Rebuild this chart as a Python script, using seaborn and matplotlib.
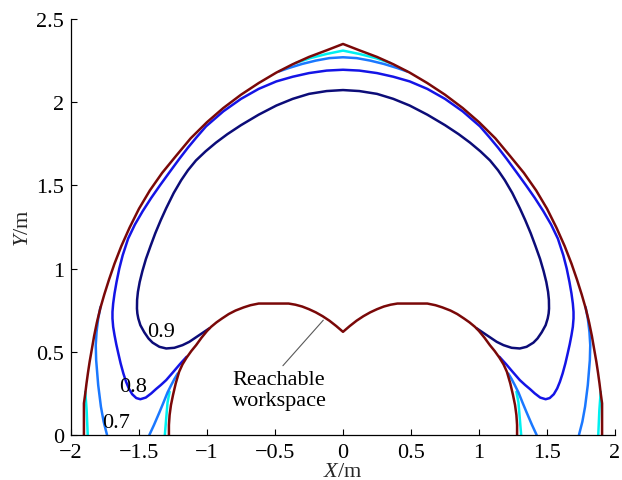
import numpy as np
import matplotlib
matplotlib.use('Agg')
from matplotlib import pyplot as plt
import seaborn as sns

# right half of each curve (the picture is symmetric about X = 0)
outer_x = [0, 0.12, 0.25, 0.37, 0.49, 0.62, 0.75, 0.88, 1.0, 1.12, 1.23, 1.33, 1.42, 1.50,
           1.57, 1.63, 1.68, 1.72, 1.755, 1.785, 1.81, 1.83, 1.848, 1.863, 1.875, 1.886, 1.895,
           1.905, 1.905]
outer_y = [2.35, 2.312, 2.272, 2.228, 2.178, 2.115, 2.045, 1.965, 1.88, 1.783, 1.675, 1.575,
           1.47, 1.36, 1.245, 1.135, 1.03, 0.935, 0.845, 0.76, 0.675, 0.595, 0.51, 0.44, 0.375,
           0.31, 0.25, 0.19, 0.0]

inner_x = [0, 0.05, 0.1, 0.15, 0.2, 0.25, 0.3, 0.35, 0.4, 0.62, 0.68, 0.73, 0.79, 0.84, 0.89,
           0.93, 0.97, 1.0, 1.04, 1.08, 1.115, 1.15, 1.18, 1.205, 1.23, 1.25, 1.265, 1.275, 1.28,
           1.28]
inner_y = [0.62, 0.655, 0.687, 0.714, 0.737, 0.756, 0.772, 0.783, 0.79, 0.79, 0.78, 0.767, 0.748,
           0.727, 0.70, 0.677, 0.65, 0.625, 0.585, 0.54, 0.505, 0.465, 0.425, 0.38, 0.31, 0.24,
           0.18, 0.12, 0.06, 0.0]

c09_x = [0, 0.12, 0.25, 0.37, 0.49, 0.62, 0.75, 0.85, 0.934, 1.01, 1.081, 1.14, 1.19, 1.245,
         1.30, 1.34, 1.38, 1.415, 1.449, 1.475, 1.495, 1.508, 1.514, 1.515, 1.512, 1.505, 1.49,
         1.461, 1.43, 1.40, 1.35, 1.30, 1.24, 1.18, 1.13, 1.081, 1.03, 0.983]
c09_y = [2.073, 2.067, 2.05, 2.02, 1.98, 1.925, 1.862, 1.808, 1.757, 1.705, 1.65, 1.591, 1.531,
         1.454, 1.363, 1.291, 1.213, 1.136, 1.058, 0.985, 0.919, 0.86, 0.812, 0.76, 0.73, 0.70,
         0.66, 0.617, 0.58, 0.555, 0.53, 0.52, 0.524, 0.54, 0.56, 0.587, 0.615, 0.641]

c08_x = [0, 0.12, 0.25, 0.37, 0.49, 0.62, 0.75, 0.88, 1.007, 1.076, 1.14, 1.204, 1.275, 1.346,
         1.41, 1.473, 1.53, 1.58, 1.62, 1.645, 1.665, 1.68, 1.69, 1.695, 1.695, 1.69, 1.68,
         1.667, 1.652, 1.635, 1.615, 1.595, 1.575, 1.55, 1.52, 1.49, 1.45, 1.41, 1.375, 1.34,
         1.30, 1.25, 1.20, 1.15]
c08_y = [2.195, 2.19, 2.175, 2.153, 2.125, 2.08, 2.02, 1.945, 1.855, 1.79, 1.727, 1.659, 1.58,
         1.50, 1.425, 1.345, 1.265, 1.18, 1.08, 1.0, 0.92, 0.85, 0.79, 0.74, 0.70, 0.65, 0.60,
         0.545, 0.49, 0.43, 0.37, 0.32, 0.28, 0.245, 0.222, 0.215, 0.225, 0.25, 0.276, 0.30,
         0.33, 0.377, 0.425, 0.47]

c07_top_x = [0, 0.1, 0.2, 0.3, 0.4, 0.47]
c07_top_y = [2.27, 2.265, 2.25, 2.23, 2.205, 2.185]
c07_out_x = [1.783, 1.80, 1.812, 1.818, 1.815, 1.80, 1.78, 1.76, 1.735]
c07_out_y = [0.77, 0.70, 0.62, 0.54, 0.45, 0.30, 0.17, 0.08, 0.0]
c07_in_x = [1.215, 1.24, 1.265, 1.29, 1.32, 1.35, 1.39, 1.424]
c07_in_y = [0.37, 0.336, 0.297, 0.256, 0.195, 0.136, 0.06, 0.0]

c06_top_x = [0, 0.12, 0.24, 0.35]
c06_top_y = [2.31, 2.29, 2.265, 2.235]
c06_out_x = [1.895, 1.885, 1.877]
c06_out_y = [0.26, 0.15, 0.0]
c06_in_x = [1.275, 1.29, 1.30, 1.31]
c06_in_y = [0.26, 0.196, 0.1, 0.0]

level_labels = ['0.9', '0.8', '0.7']
label_x = [-1.34, -1.54, -1.67]
label_y = [0.62, 0.29, 0.075]

x_ticks = [-2, -1.5, -1, -0.5, 0, 0.5, 1, 1.5, 2]
x_tick_labels = ['\u22122', '\u22121.5', '\u22121', '\u22120.5', '0', '0.5', '1', '1.5', '2']
y_ticks = [0, 0.5, 1, 1.5, 2, 2.5]
y_tick_labels = ['0', '0.5', '1', '1.5', '2', '2.5']

col_red = '#7a0808'
col_09 = '#0c0c78'
col_08 = '#1414e6'
col_07 = '#1a78ff'
col_06 = '#00f0f0'


def both_sides(x, y):
    # join the left (mirrored) and right half of a curve through X = 0
    x = np.asarray(x)
    y = np.asarray(y)
    return np.concatenate([-x[::-1], x[1:]]), np.concatenate([y[::-1], y[1:]])


sns.set_theme(style='ticks')
plt.rcParams['font.family'] = ['Liberation Serif', 'DejaVu Serif']
plt.rcParams['mathtext.fontset'] = 'custom'
plt.rcParams['mathtext.it'] = 'Liberation Serif:italic'
plt.rcParams['mathtext.rm'] = 'Liberation Serif'

fig = plt.figure(figsize=(6.22, 4.81), dpi=100)
ax = fig.add_axes([71 / 622, 45 / 481, 544 / 622, 416 / 481])

lw = 1.8
fs = 16


def draw(x, y, color):
    sns.lineplot(x=x, y=y, sort=False, estimator=None, color=color, lw=lw, ax=ax)


# contour levels first, boundary on top
for xs, ys in [(c06_out_x, c06_out_y), (c06_in_x, c06_in_y)]:
    draw(xs, ys, col_06)
    draw(-np.asarray(xs), ys, col_06)
draw(*both_sides(c06_top_x, c06_top_y), col_06)

for xs, ys in [(c07_out_x, c07_out_y), (c07_in_x, c07_in_y)]:
    draw(xs, ys, col_07)
    draw(-np.asarray(xs), ys, col_07)
draw(*both_sides(c07_top_x, c07_top_y), col_07)

draw(*both_sides(c08_x, c08_y), col_08)
draw(*both_sides(c09_x, c09_y), col_09)

draw(*both_sides(outer_x, outer_y), col_red)
draw(*both_sides(inner_x, inner_y), col_red)

for txt, lx, ly in zip(level_labels, label_x, label_y):
    ax.text(lx, ly, txt, fontsize=fs, ha='center', va='center', color='black')

ax.annotate('Reachable\nworkspace', xy=(-0.145, 0.69), xytext=(-0.47, 0.27),
            fontsize=fs, ha='center', va='center', color='black', linespacing=1.15,
            arrowprops=dict(arrowstyle='-', color='0.35', lw=0.8, relpos=(0.5, 1.0),
                            shrinkA=1, shrinkB=0))

ax.set_xlim(-2, 2)
ax.set_ylim(0, 2.5)
ax.set_xticks(x_ticks)
ax.set_xticklabels(x_tick_labels)
ax.set_yticks(y_ticks)
ax.set_yticklabels(y_tick_labels)
ax.tick_params(direction='in', length=4, width=0.8, colors='black', labelsize=fs)
ax.tick_params(axis='x', pad=6)
ax.tick_params(axis='y', pad=5)
for s in ['left', 'bottom']:
    ax.spines[s].set_color('black')
    ax.spines[s].set_linewidth(0.9)
sns.despine(ax=ax)

ax.set_xlabel(r'$\mathit{X}$/m', fontsize=fs, labelpad=0)
ax.set_ylabel(r'$\mathit{Y}$/m', fontsize=fs, labelpad=2)

fig.savefig('out.png', dpi=100)
